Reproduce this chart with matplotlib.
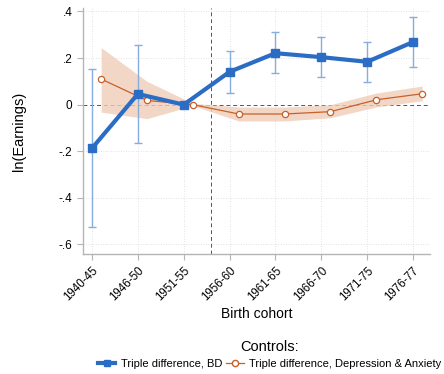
import numpy as np
import matplotlib.pyplot as plt
from matplotlib.lines import Line2D

plt.rcParams['font.family'] = ['Liberation Sans', 'DejaVu Sans']

# ---- data ----
cohorts = ['1940-45', '1946-50', '1951-55', '1956-60', '1961-65', '1966-70', '1971-75', '1976-77']

bd_coef = [-0.187, 0.046, 0.0, 0.141, 0.221, 0.204, 0.184, 0.269]
bd_lo = [-0.527, -0.163, np.nan, 0.048, 0.135, 0.118, 0.098, 0.163]
bd_hi = [0.155, 0.255, np.nan, 0.231, 0.310, 0.290, 0.270, 0.377]

da_coef = [0.110, 0.018, 0.0, -0.040, -0.040, -0.030, 0.021, 0.047]
da_lo = [-0.032, -0.060, -0.004, -0.070, -0.070, -0.056, -0.010, 0.017]
da_hi = [0.245, 0.100, 0.006, -0.010, -0.010, 0.000, 0.050, 0.080]

BLUE = '#2b6cc4'
BLUE_LIGHT = '#86addf'
ORANGE = '#c8602a'
SHADE = '#f0cdb8'

x = np.arange(len(cohorts))
x_da = x + 0.2   # small horizontal shift for the second series

fig = plt.figure(figsize=(4.44, 3.74), dpi=100)
ax = fig.add_axes([83 / 444, 1 - 254 / 374, (430 - 83) / 444, (254 - 8) / 374])

# grid
for v in [-0.6, -0.4, -0.2, 0.2, 0.4]:
    ax.axhline(v, color='#d9d9d9', lw=0.6, ls=(0, (1, 2)), zorder=0)
for xi in x:
    ax.axvline(xi, color='#d9d9d9', lw=0.6, ls=(0, (1, 2)), zorder=0)

ax.axhline(0, color='#555555', lw=0.7, ls=(0, (4, 3)), zorder=1)
ax.axvline(2.6, color='#555555', lw=0.7, ls=(0, (4, 3)), zorder=1)

# depression & anxiety: shaded CI + thin line with hollow circles
ax.fill_between(x_da, da_lo, da_hi, color=SHADE, alpha=0.8, lw=0, zorder=2)
ax.plot(x_da, da_coef, color=ORANGE, lw=0.9, marker='o', ms=4.5,
        mfc='white', mec=ORANGE, mew=0.9, zorder=4)

# BD: error bars + thick line with squares
bd_c = np.array(bd_coef)
lo = np.array(bd_lo)
hi = np.array(bd_hi)
m = ~np.isnan(lo)
ax.errorbar(x[m], bd_c[m], yerr=[bd_c[m] - lo[m], hi[m] - bd_c[m]],
            fmt='none', ecolor=BLUE_LIGHT, elinewidth=1.0, capsize=3,
            capthick=1.0, zorder=3)
ax.plot(x, bd_coef, color=BLUE, lw=3, marker='s', ms=6, zorder=5)

ax.set_xlim(-0.196, 7.37)
ax.set_ylim(-0.641, 0.415)
ax.set_yticks([-0.6, -0.4, -0.2, 0, 0.2, 0.4])
ax.set_yticklabels(['-.6', '-.4', '-.2', '0', '.2', '.4'], fontsize=8.5)
ax.set_xticks(x)
ax.set_xticklabels(cohorts, rotation=45, ha='right', rotation_mode='anchor', fontsize=8.3)

for side in ['top', 'right']:
    ax.spines[side].set_visible(False)
for side in ['left', 'bottom']:
    ax.spines[side].set_color('#b5b5b5')
    ax.spines[side].set_linewidth(1.0)
ax.tick_params(colors='#b5b5b5', labelcolor='black', length=4, width=0.8)

ax.set_ylabel('ln(Earnings)', fontsize=10.5, labelpad=24)
ax.set_xlabel('Birth cohort', fontsize=10, labelpad=3)

handles = [
    Line2D([], [], color=BLUE, lw=3, marker='s', ms=5),
    Line2D([], [], color=ORANGE, lw=0.9, marker='o', ms=4.5, mfc='white', mec=ORANGE),
]
leg = fig.legend(handles, ['Triple difference, BD', 'Triple difference, Depression & Anxiety'],
                 loc='center', bbox_to_anchor=(0.607, 0.052), ncol=2, frameon=False,
                 fontsize=8, handlelength=1.6, handletextpad=0.5, columnspacing=0.3,
                 title='Controls:', title_fontsize=10.5)

fig.savefig('out.png', dpi=100)
